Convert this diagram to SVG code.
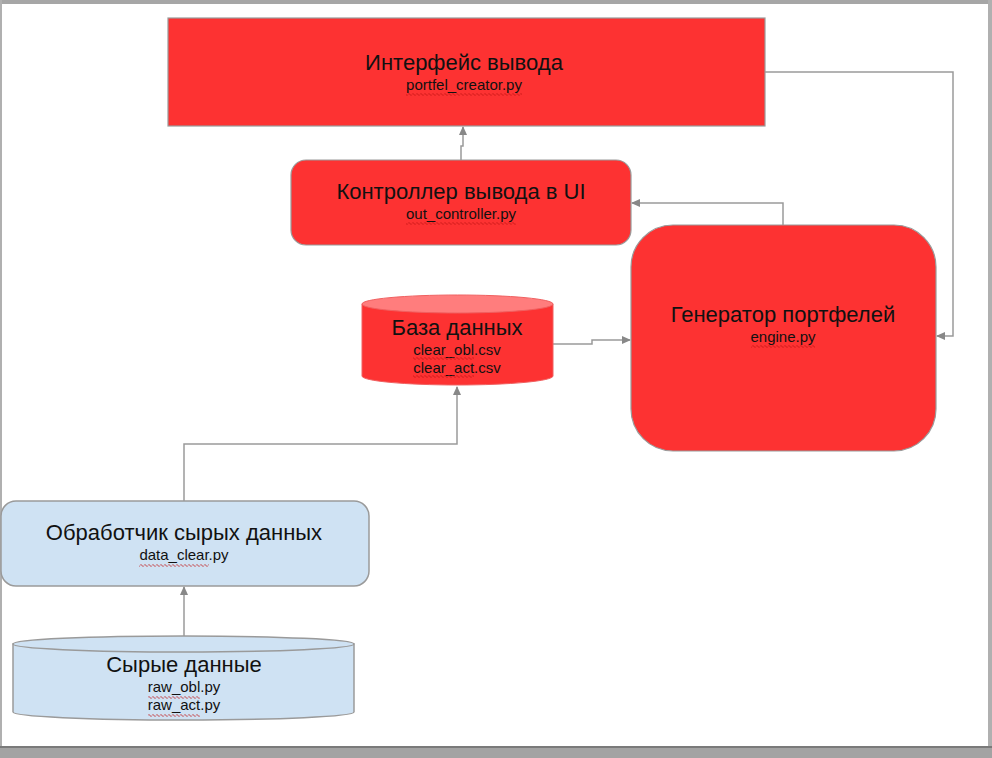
<svg xmlns="http://www.w3.org/2000/svg" width="992" height="758" viewBox="0 0 992 758">
<style>
.red{fill:#fd3232;stroke:#9a9a9a;stroke-width:1.2}
.blue{fill:#cfe2f3;stroke:#9a9a9a;stroke-width:1.5}
.t{font-family:"Liberation Sans",Arial,sans-serif;font-size:22px;fill:#111;text-anchor:middle}
.s{font-family:"Liberation Sans",Arial,sans-serif;font-size:15px;fill:#111;text-anchor:middle}
.c{fill:none;stroke:#9a9a9a;stroke-width:1.5;marker-end:url(#ah)}
.sq{fill:url(#squig)}
</style>
<defs>
<marker id="ah" markerUnits="userSpaceOnUse" markerWidth="9" markerHeight="8" refX="8" refY="4" orient="auto">
<path d="M0,0 L9,4 L0,8 Z" fill="#888"/>
</marker>
<pattern id="squig" patternUnits="userSpaceOnUse" width="4" height="3">
<path d="M0,1.5 L1,0.5 L3,2.5 L4,1.5" fill="none" stroke="#c01010" stroke-width="0.8"/>
</pattern>
</defs>
<rect x="0" y="0" width="992" height="758" fill="#ffffff"/>
<rect x="0" y="0" width="992" height="4" fill="#a6a6a6"/>
<rect x="0" y="0" width="2" height="758" fill="#b0b0b0"/>
<rect x="988" y="0" width="4" height="758" fill="#b0b0b0"/>
<rect x="0" y="746" width="992" height="12" fill="#a3a3a3"/>
<rect x="0" y="746" width="992" height="2" fill="#7a7a7a"/>

<g id="connectors">
<path class="c" d="M461,160 V146 H463 V127"/>
<path class="c" d="M783,225 V203 H632"/>
<path class="c" d="M765,72 H953 V336 H937"/>
<path class="c" d="M553,344 H592 V340 H630"/>
<path class="c" d="M184,501 V444 H457 V387"/>
<path class="c" d="M184,636 V587"/>
</g>

<g id="output-interface">
<rect class="red" x="168" y="18" width="597" height="108"/>
<text class="t" x="464" y="70">Интерфейс вывода</text>
<text class="s" x="464" y="90">portfel_creator.py</text>
<rect class="sq" x="406" y="93" width="116" height="3"/>
</g>

<g id="ui-controller">
<rect class="red" x="291" y="160" width="340" height="85" rx="15"/>
<text class="t" x="461" y="199">Контроллер вывода в UI</text>
<text class="s" x="461" y="219">out_controller.py</text>
<rect class="sq" x="406" y="222" width="110" height="3"/>
</g>

<g id="portfolio-generator">
<rect class="red" x="631" y="225" width="305" height="226" rx="42"/>
<text class="t" x="783" y="322">Генератор портфелей</text>
<text class="s" x="783" y="342">engine.py</text>
<rect class="sq" x="751" y="345" width="64" height="3"/>
</g>

<g id="database">
<path d="M362,304 V376 A95.5,9 0 0 0 553,376 V304 Z" fill="#fd3232" stroke="#f06060" stroke-width="1"/>
<ellipse cx="457.5" cy="304" rx="95.5" ry="9" fill="#ff7d7d" stroke="#f06060" stroke-width="1"/>
<text class="t" x="457" y="335">База данных</text>
<text class="s" x="457" y="355">clear_obl.csv</text>
<text class="s" x="457" y="373">clear_act.csv</text>
<rect class="sq" x="413" y="357" width="61" height="3"/>
<rect class="sq" x="413" y="375" width="61" height="3"/>
</g>

<g id="raw-processor">
<rect class="blue" x="1" y="501" width="368" height="85" rx="15"/>
<text class="t" x="184" y="540">Обработчик сырых данных</text>
<text class="s" x="184" y="560">data_clear.py</text>
<rect class="sq" x="139" y="564" width="70" height="3"/>
</g>

<g id="raw-data">
<path class="blue" d="M13,644 V712 A170.5,8 0 0 0 354,712 V644 Z"/>
<ellipse class="blue" cx="183.5" cy="644" rx="170.5" ry="8"/>
<text class="t" x="184" y="672">Сырые данные</text>
<text class="s" x="184" y="692">raw_obl.py</text>
<text class="s" x="184" y="710">raw_act.py</text>
<rect class="sq" x="148" y="696" width="52" height="3"/>
<rect class="sq" x="148" y="714" width="52" height="3"/>
</g>
</svg>
